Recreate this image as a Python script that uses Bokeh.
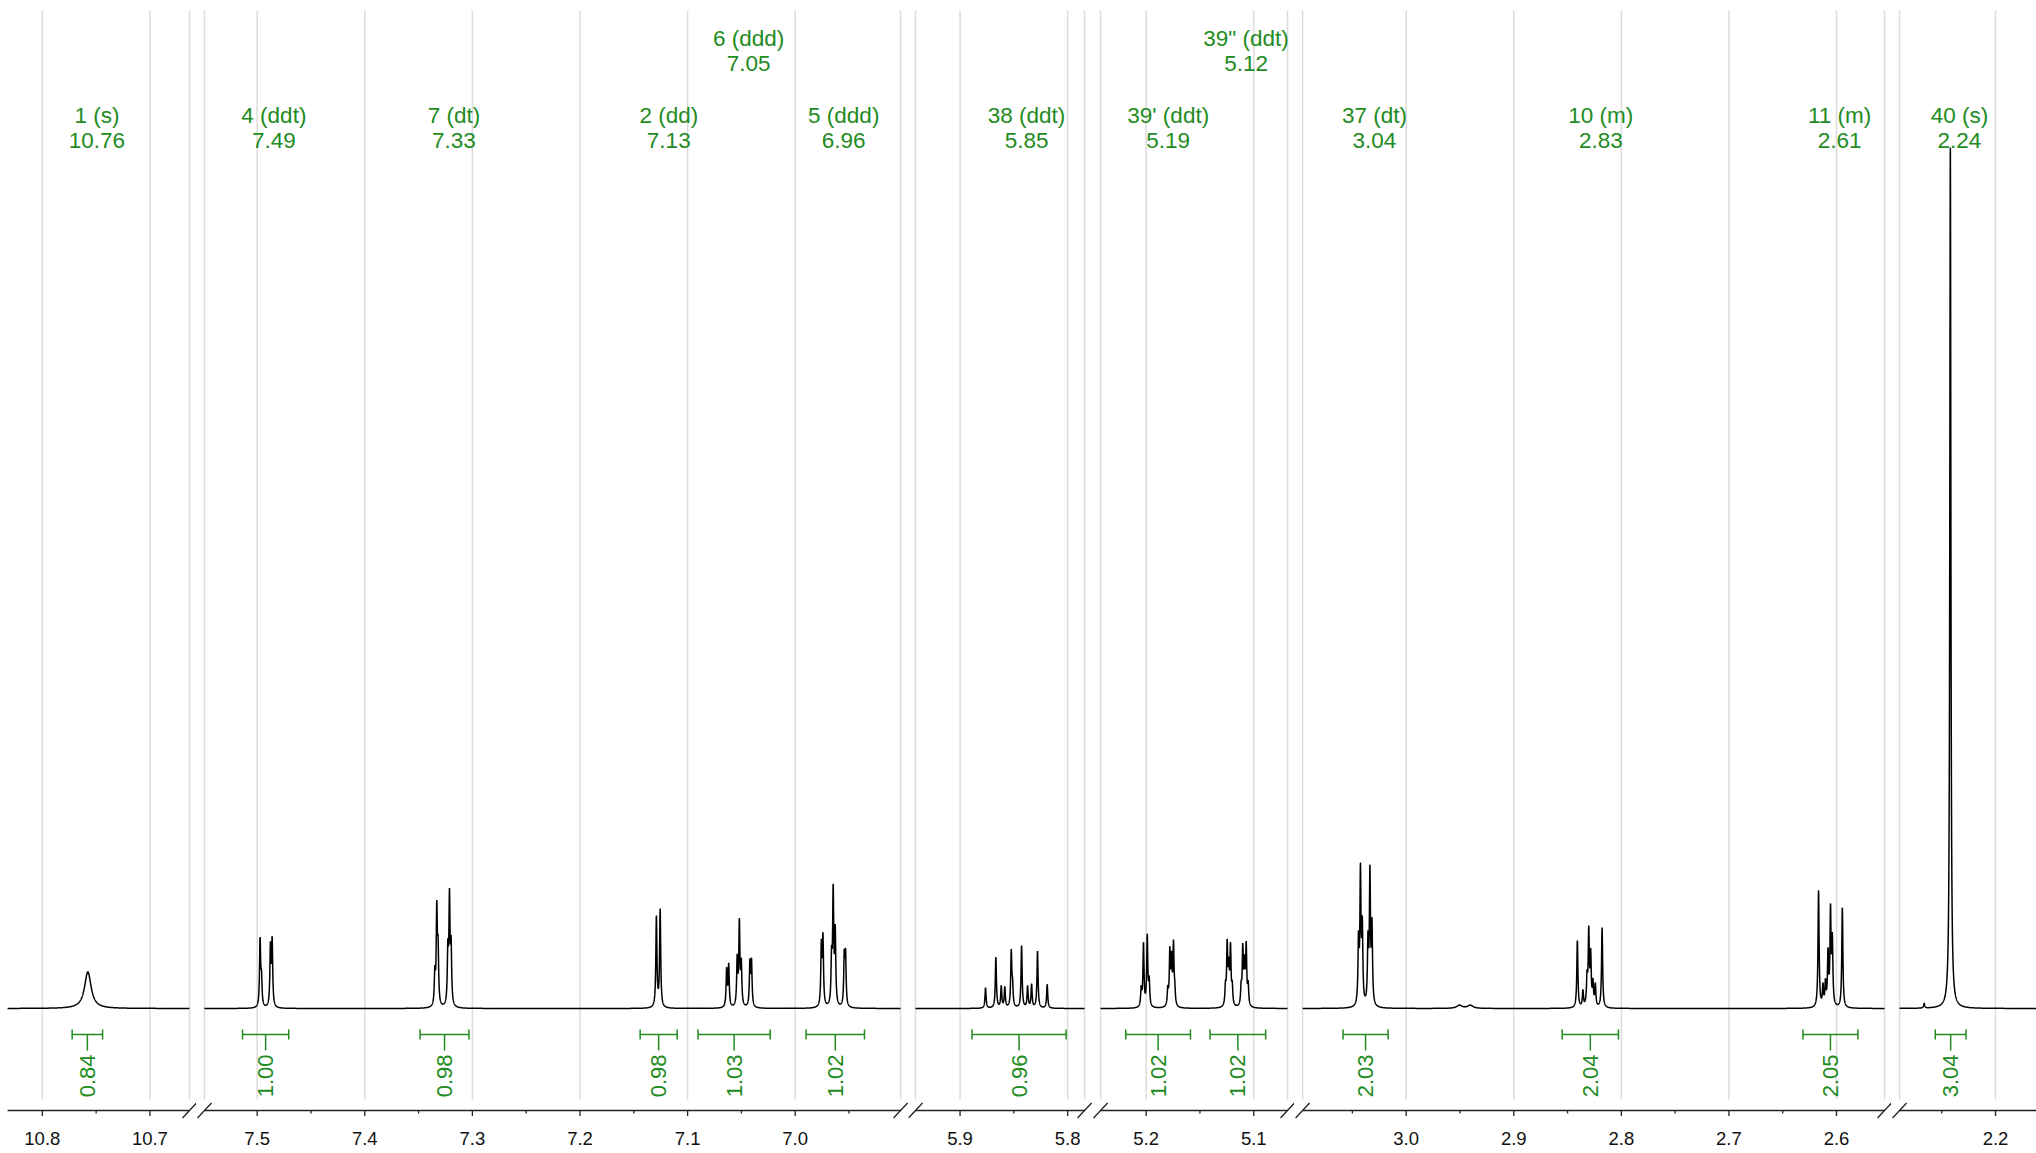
import numpy as np
from bokeh.plotting import figure
from bokeh.layouts import row
from bokeh.models import (Range1d, FixedTicker, PrintfTickFormatter, ColumnDataSource, LabelSet)
from bokeh.embed import file_html
from bokeh.resources import INLINE
from bokeh.core.properties import value

# ---------------- data ----------------
# visible ppm windows of the broken axis (left edge, right edge)
win_left_ppm = [10.8323, 7.5490, 5.9414, 5.2424, 3.0963, 2.2892]
win_right_ppm = [10.6632, 6.9021, 5.7843, 5.0686, 2.5554, 2.1619]
# ppm at the outer edges of each panel (panels meet in the middle of each gap)
panel_left_ppm = [10.8389, 7.5564, 5.9479, 5.2499, 3.1038, 2.2967]
panel_right_ppm = [10.6567, 6.8947, 5.7769, 5.0621, 2.5489, 2.1619]

major_ticks = [[10.8, 10.7], [7.5, 7.4, 7.3, 7.2, 7.1, 7.0], [5.9, 5.8], [5.2, 5.1],
               [3.0, 2.9, 2.8, 2.7, 2.6], [2.2]]
minor_ticks = [[10.75], [7.45, 7.35, 7.25, 7.15, 7.05, 6.95], [5.85], [5.15],
               [3.05, 2.95, 2.85, 2.75, 2.65], [2.25]]

# resolved lines of the spectrum: shift (ppm), apparent height (rel.), half width (ppm)
peak_ppm = [10.7577,
            7.4973, 7.4960, 7.4877, 7.4861,
            7.3349, 7.3331, 7.3319, 7.3228, 7.3213, 7.3198,
            7.1290, 7.1255,
            7.0637, 7.0618, 7.0539, 7.0519, 7.0501, 7.0421, 7.0406,
            6.9757, 6.9742, 6.9662, 6.9647, 6.9628, 6.9544, 6.9532,
            5.8763, 5.8667, 5.8617, 5.8584, 5.8524, 5.8512, 5.8428, 5.8372, 5.8335, 5.8280, 5.8190,
            5.2046, 5.2025, 5.1990, 5.1972, 5.1799, 5.1780, 5.1764, 5.1746, 5.1734,
            5.1263, 5.1247, 5.1232, 5.1216, 5.1200, 5.1117, 5.1102, 5.1086, 5.1070, 5.1052,
            3.0443, 3.0425, 3.0408, 3.0355, 3.0337, 3.0318,
            2.9505, 2.9404,
            2.8409, 2.8357, 2.8319, 2.8303, 2.8285, 2.8264, 2.8242, 2.8179,
            2.6167, 2.6126, 2.6103, 2.6079, 2.6056, 2.6039, 2.5946,
            2.2663, 2.2420]
peak_height = [0.0425,
               0.083, 0.045, 0.078, 0.084,
               0.050, 0.126, 0.085, 0.081, 0.140, 0.085,
               0.108, 0.116,
               0.048, 0.053, 0.0635, 0.105, 0.059, 0.058, 0.059,
               0.081, 0.0886, 0.073, 0.145, 0.098, 0.069, 0.070,
               0.024, 0.0596, 0.0267, 0.0255, 0.069, 0.036, 0.073, 0.0267, 0.0287, 0.0666, 0.028,
               0.027, 0.077, 0.0867, 0.038, 0.027, 0.072, 0.067, 0.080, 0.0325,
               0.0325, 0.081, 0.060, 0.077, 0.0325, 0.0325, 0.076, 0.063, 0.078, 0.0325,
               0.0906, 0.169, 0.108, 0.0906, 0.167, 0.106,
               0.004, 0.004,
               0.079, 0.022, 0.045, 0.0964, 0.070, 0.035, 0.030, 0.094,
               0.137, 0.030, 0.035, 0.071, 0.122, 0.0886, 0.117,
               0.006, 1.000]
peak_hwhm = [0.0037] + [0.0006] * 62 + [0.003, 0.003] + [0.0006] * 17

label_name = ["1 (s)", "4 (ddt)", "7 (dt)", "2 (dd)", "6 (ddd)", "5 (ddd)", "38 (ddt)",
              "39' (ddt)", '39" (ddt)', "37 (dt)", "10 (m)", "11 (m)", "40 (s)"]
label_shift = ["10.76", "7.49", "7.33", "7.13", "7.05", "6.96", "5.85", "5.19", "5.12",
               "3.04", "2.83", "2.61", "2.24"]
label_ppm = [10.7493, 7.4845, 7.3171, 7.1175, 7.0432, 6.9549, 5.8382, 5.1795, 5.1071,
             3.0295, 2.8191, 2.5971, 2.2335]
label_raised = [0, 0, 0, 0, 1, 0, 0, 0, 1, 0, 0, 0, 0]

int_start = [10.7723, 7.5136, 7.3486, 7.1441, 7.0903, 6.9899, 5.8889, 5.2190, 5.1406,
             3.0587, 2.8550, 2.6312, 2.2560]
int_end = [10.7440, 7.4707, 7.3032, 7.1097, 7.0232, 6.9356, 5.8014, 5.1588, 5.0889,
           3.0168, 2.8027, 2.5801, 2.2274]
int_value = ["0.84", "1.00", "0.98", "0.98", "1.03", "1.02", "0.96", "1.02", "1.02",
             "2.03", "2.04", "2.05", "3.04"]

# ---------------- layout / style ----------------
PANEL_W = [196, 712, 184, 202, 597, 145]
FIG_H = 1153
TOP_B = 10
FRAME_BOT = 1120         # page y of frame bottom
BOT_B = FIG_H - FRAME_BOT
AXIS_Y = 1110.0          # page y of the drawn axis line
BASE_Y = 1008.0          # page y of the spectrum baseline
PXU = 861.0              # pixels per intensity unit
PX_PER_PPM = 1076.0

GREEN = "#228B22"
GRID = "#dcdcdc"
DARK = "#222222"
FONT = value("Liberation Sans")


def yv(page_y):
    return (BASE_Y - page_y) / PXU


Y0 = yv(FRAME_BOT)
Y1 = yv(TOP_B)

pk_x = np.array(peak_ppm)
pk_h = np.array(peak_height)
pk_w = np.array(peak_hwhm)


def lor(x, x0, w):
    return 1.0 / (1.0 + ((x - x0) / w) ** 2)


figs = []
nseg = len(win_left_ppm)
for i in range(nseg):
    L, R = win_left_ppm[i], win_right_ppm[i]
    p = figure(width=PANEL_W[i], height=FIG_H,
               x_range=Range1d(panel_left_ppm[i], panel_right_ppm[i]), y_range=Range1d(Y0, Y1),
               output_backend="svg", toolbar_location=None, y_axis_location=None,
               min_border_left=0, min_border_right=0,
               min_border_top=TOP_B, min_border_bottom=BOT_B)
    p.outline_line_color = None
    p.xgrid.visible = False
    p.ygrid.visible = False
    p.background_fill_color = "white"
    p.border_fill_color = "white"

    # grid lines at the major ticks, stopping above the axis
    mt = major_ticks[i]
    p.segment(x0=mt, y0=[yv(1099)] * len(mt), x1=mt, y1=[Y1] * len(mt),
              line_color=GRID, line_width=1.5)
    # window borders at the breaks
    edges = []
    if i > 0:
        edges.append(L)
    if i < nseg - 1:
        edges.append(R)
    if edges:
        p.segment(x0=edges, y0=[yv(1099)] * len(edges), x1=edges, y1=[Y1] * len(edges),
                  line_color=GRID, line_width=1.5)

    # axis line, ticks and break marks of this window
    ya = yv(AXIS_Y)
    p.segment(x0=[L], y0=[ya], x1=[R], y1=[ya], line_color=DARK, line_width=1.3)
    p.segment(x0=mt, y0=[ya] * len(mt), x1=mt, y1=[yv(AXIS_Y + 5.5)] * len(mt),
              line_color=DARK, line_width=1.3)
    mn = minor_ticks[i]
    p.segment(x0=mn, y0=[ya] * len(mn), x1=mn, y1=[yv(AXIS_Y + 3)] * len(mn),
              line_color=DARK, line_width=1.3)
    dx = 7.0 / PX_PER_PPM
    dy = 7.5 / PXU
    if edges:
        p.segment(x0=[e + dx for e in edges], y0=[ya - dy] * len(edges),
                  x1=[e - dx for e in edges], y1=[ya + dy] * len(edges),
                  line_color=DARK, line_width=1.3)

    # spectrum trace
    m = (pk_x <= L) & (pk_x >= R)
    xs0, hs, ws = pk_x[m], pk_h[m], pk_w[m]
    A = lor(xs0[:, None], xs0[None, :], ws[None, :])
    amp = np.clip(np.linalg.solve(A, hs), 0, None)
    n = int((L - R) / 0.0001) + 1
    xs = np.sort(np.concatenate([np.linspace(L, R, n), xs0]))[::-1]
    ys = (amp[None, :] * lor(xs[:, None], xs0[None, :], ws[None, :])).sum(axis=1)
    p.line(xs, ys, line_color="#000000", line_width=1.5)

    # integrals
    idx = [k for k in range(len(int_start)) if R <= int_start[k] <= L]
    if idx:
        s = np.array([int_start[k] for k in idx])
        e = np.array([int_end[k] for k in idx])
        mid = (s + e) / 2
        yb = yv(1034)
        p.segment(x0=s, y0=[yb] * len(s), x1=e, y1=[yb] * len(s), line_color=GREEN, line_width=1.5)
        p.segment(x0=s, y0=[yv(1029)] * len(s), x1=s, y1=[yv(1039)] * len(s), line_color=GREEN, line_width=1.5)
        p.segment(x0=e, y0=[yv(1029)] * len(s), x1=e, y1=[yv(1039)] * len(s), line_color=GREEN, line_width=1.5)
        p.segment(x0=mid, y0=[yb] * len(s), x1=mid, y1=[yv(1050)] * len(s), line_color=GREEN, line_width=1.5)
        p.text(x=mid, y=[yv(1054)] * len(s), text=[int_value[k] for k in idx], angle=np.pi / 2,
               text_align="right", text_baseline="middle", text_color=GREEN,
               text_font=FONT, text_font_size="22px")

    # peak labels
    lidx = [k for k in range(len(label_ppm)) if R <= label_ppm[k] <= L]
    if lidx:
        src = ColumnDataSource(dict(
            x=[label_ppm[k] for k in lidx],
            y1=[yv(38) if label_raised[k] else yv(115) for k in lidx],
            y2=[yv(63) if label_raised[k] else yv(140) for k in lidx],
            name=[label_name[k] for k in lidx],
            shift=[label_shift[k] for k in lidx]))
        for yc, tc in (("y1", "name"), ("y2", "shift")):
            p.add_layout(LabelSet(x="x", y=yc, text=tc, source=src, text_align="center",
                                  text_baseline="middle", text_color=GREEN,
                                  text_font=FONT, text_font_size="22.5px"))

    # axis: tick labels from the library's ticker
    ax = p.xaxis[0]
    ax.ticker = FixedTicker(ticks=major_ticks[i], minor_ticks=minor_ticks[i])
    ax.formatter = PrintfTickFormatter(format="%.1f")
    ax.axis_line_color = None
    ax.major_tick_line_color = None
    ax.minor_tick_line_color = None
    ax.major_tick_in = 0
    ax.major_tick_out = 0
    ax.minor_tick_in = 0
    ax.minor_tick_out = 0
    ax.major_label_standoff = 11
    ax.major_label_text_font = "Liberation Sans"
    ax.major_label_text_font_size = "18.5px"
    ax.major_label_text_color = "#111111"
    figs.append(p)

layout = row(*figs, spacing=0)
open("out.html", "w").write(file_html(layout, INLINE))
